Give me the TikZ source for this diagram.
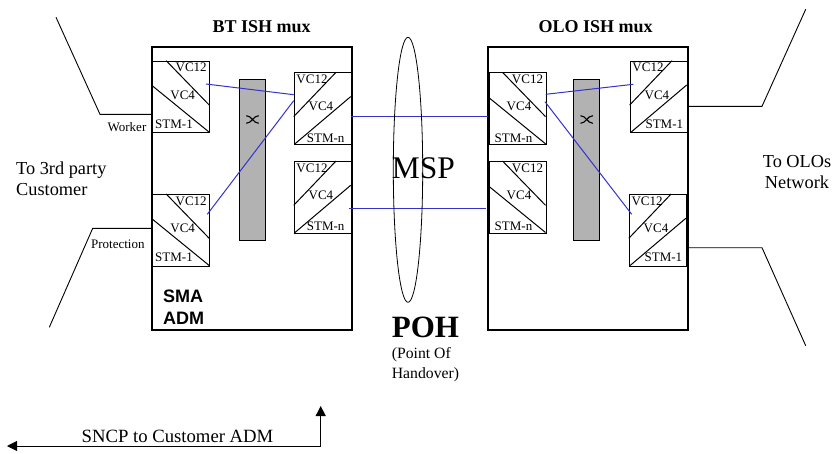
\documentclass[tikz,border=0pt]{standalone}
\usepackage{fontspec}
\setmainfont{Liberation Serif}
\setsansfont{Liberation Sans}
\usetikzlibrary{
    arrows.meta,
    shapes.geometric
    }

\definecolor{linkblue}{RGB}{51,51,204}

\begin{document}
\begin{tikzpicture}[x=1pt, y=-1pt]
\tikzset{muxframe/.style =
        {
            rectangle,
            line width=2pt,
            minimum width=200pt,
            minimum height=283pt,
            inner sep=0pt,
            draw
        }
}

\tikzset{portbox/.style =
        {
            rectangle,
            line width=1pt,
            minimum width=57pt,
            minimum height=71.5pt,
            anchor=north west,
            inner sep=0pt,
            draw
        }
}

\tikzset{crossbar/.style =
        {
            rectangle,
            line width=1pt,
            fill=black!30,
            minimum width=26pt,
            minimum height=161pt,
            inner sep=0pt,
            draw
        }
}

\tikzset{portlabel/.style = {
            font=\fontsize{13}{13}\selectfont,
            inner sep=0pt
        }
}

\tikzset{note/.style = {
            font=\fontsize{18.3}{21.5}\selectfont,
            inner sep=0pt
        }
}

\tikzset{title/.style = {
            font=\fontsize{18}{18}\selectfont\bfseries,
            inner sep=0pt
        }
}

\tikzset{feed/.style = { line width=0.9pt } }

\tikzset{link/.style = {
            line width=1pt,
            linkblue
        }
}

\tikzset{switch mark/.pic = {
            \draw [line width=1.1pt] (-6.2,-3.8) to[out=0, in=180] (6.2,3.8);
            \draw [line width=1.1pt] (-6.2,3.8) to[out=0, in=180] (6.2,-3.8);
        }
}

\tikzset{pics/port down/.style 2 args = {
            code = {
                    \node[portbox] (box) at (0,0) {};
                    \draw [line width=1pt] (14,0) -- (57,44.3);
                    \draw [line width=1pt] (0,25) -- (57,71.5);
                    \node[portlabel] (vc12) at (39,7) {VC12};
                    \node[portlabel] (vc4) at (30.5,34.3) {VC4};
                    \node[portlabel] (rate) at (#2) {#1};
                }
        }
}

\tikzset{pics/port up/.style 2 args = {
            code = {
                    \node[portbox] (box) at (0,0) {};
                    \draw [line width=1pt] (42.3,0) -- (0,44.3);
                    \draw [line width=1pt] (57,24.3) -- (1.3,71.5);
                    \node[portlabel] (vc12) at (18.3,7) {VC12};
                    \node[portlabel] (vc4) at (27.2,34.3) {VC4};
                    \node[portlabel] (rate) at (#2) {#1};
                }
        }
}

\useasboundingbox (0,0) rectangle (834,453);

\node[muxframe] (bt-mux) at (251.8,188.4) {};
\node[muxframe] (olo-mux) at (587.8,188.4) {};
\node[title] (bt-title) at (261.7,27) {BT ISH mux};
\node[title] (olo-title) at (595.7,27) {OLO ISH mux};

\node[crossbar] (bt-bar) at (252.5,159.5) {};
\node[crossbar] (olo-bar) at (586.7,159.5) {};
\foreach \bar in {bt-bar, olo-bar}
\pic at ([yshift=40pt]\bar.center) {switch mark};

\pic (bt-w-) at (152.2,60.7) {port down={STM-1}{21.8,63.3}};
\pic (bt-p-) at (152.2,194) {port down={STM-1}{21.8,63.3}};
\pic (bt-a-) at (293.7,72.3) {port up={STM-n}{32,65.7}};
\pic (bt-b-) at (293.7,161) {port up={STM-n}{32,65.7}};

\pic (olo-a-) at (488.5,72.3) {port down={STM-n}{25,65.7}};
\pic (olo-b-) at (488.5,161) {port down={STM-n}{25,65.7}};
\pic (olo-w-) at (629.7,60.7) {port up={STM-1}{34.6,63.3}};
\pic (olo-p-) at (628.8,194) {port up={STM-1}{34.6,63.3}};

% ends of the cross connects
\foreach \name / \pos in
    {c1/{206,84}, c2/{293.7,94.7},
     c3/{207.3,214.3}, c4/{293.7,100.7},
     c5/{351,116.3}, c6/{488,116.3},
     c7/{349,208}, c8/{485.7,208},
     c9/{545.7,94.3}, c10/{633.3,84.3},
     c11/{545,101.7}, c12/{631.7,214.3}}
\coordinate (\name) at (\pos);

\foreach \start / \finish in {c1/c2, c3/c4, c5/c6, c7/c8, c9/c10, c11/c12}
\draw [link] (\start) -- (\finish);

\node[ellipse, line width=0.8pt, minimum width=29.4pt, minimum height=265pt, inner sep=0pt, draw] (msp) at (408,169.8) {};
\node[inner sep=0pt, font=\fontsize{31.5}{31.5}\selectfont] (msp-label) at (423.3,168) {MSP};
\node[inner sep=0pt, font=\fontsize{31}{31}\selectfont\bfseries] (poh) at (425.5,327) {POH};
\node[inner sep=0pt, align=left, anchor=north west, font=\fontsize{15.7}{20}\selectfont] (poh-note) at (391.7,347) {(Point Of\\Handover)};

% customer side
\coordinate (w1) at (56,17.3);
\coordinate (w2) at (100,114.3);
\coordinate (p1) at (49.3,327.3);
\coordinate (p2) at (92.7,228.3);
\draw [feed] (w1) -- (w2) -- (bt-mux.west |- w2);
\draw [feed] (p1) -- (p2) -- (bt-mux.west |- p2);
\node[portlabel] (worker) at (127,126.7) {Worker};
\node[portlabel] (protection) at (117.8,244) {Protection};
\node[note, align=left, anchor=west] (customer) at (16,178.5) {To 3rd party\\Customer};

% OLO side
\coordinate (o1) at (805.7,9.3);
\coordinate (o2) at (762,106.3);
\coordinate (q1) at (805.7,345.7);
\coordinate (q2) at (762,247.7);
\draw [feed] (o1) -- (o2) -- (olo-mux.east |- o2);
\draw [feed] (q1) -- (q2) -- (olo-mux.east |- q2);
\node[note, align=center] (olo-net) at (797,172) {To OLOs\\Network};

\node[inner sep=0pt, align=left, anchor=north west, font=\fontsize{18}{21.5}\selectfont\sffamily\bfseries] (sma) at (163,290) {SMA\\ADM};

\coordinate (sncp-l) at (7,446);
\coordinate (sncp-m) at (320.7,446);
\coordinate (sncp-r) at (320.7,406);
\draw [feed, {Triangle[length=10pt,width=10pt]}-{Triangle[length=10pt,width=10pt]}] (sncp-l) -- (sncp-m) -- (sncp-r);
\node[note, font=\fontsize{18.7}{18.7}\selectfont] (sncp) at (177.5,436) {SNCP to Customer ADM};
\end{tikzpicture}
\end{document}
